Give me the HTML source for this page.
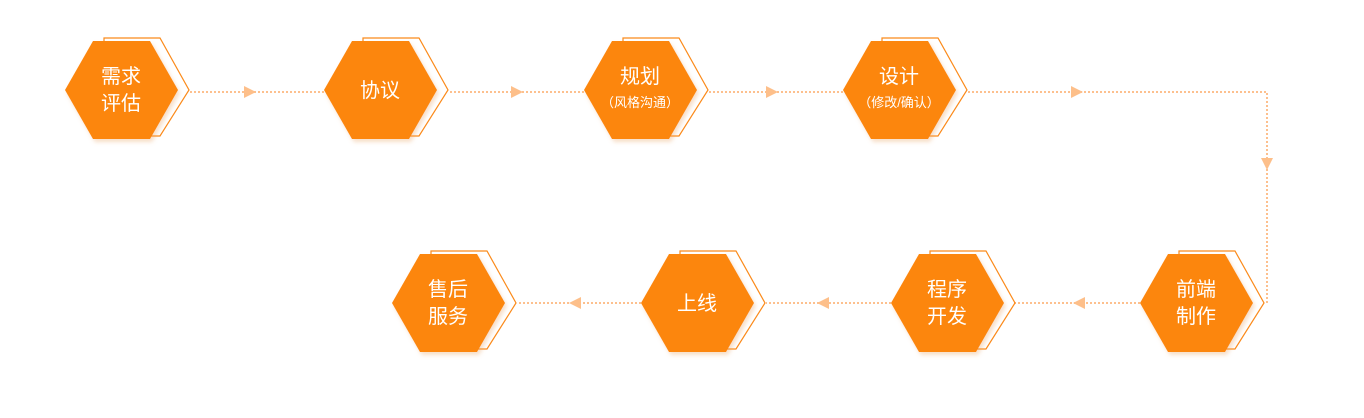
<!DOCTYPE html>
<html><head><meta charset="utf-8"><style>
html,body{margin:0;padding:0;background:#fff;width:1364px;height:418px;overflow:hidden}
svg text{font-family:"Liberation Sans","Noto Sans CJK SC",sans-serif;fill:#fff;text-anchor:middle}
</style></head><body>
<svg width="1364" height="418" viewBox="0 0 1364 418" xmlns="http://www.w3.org/2000/svg">
<defs>
<filter id="sh" x="-20%" y="-20%" width="140%" height="140%"><feDropShadow dx="2" dy="3" stdDeviation="2" flood-color="#e8a060" flood-opacity="0.35"/></filter>
<g id="hex">
<polygon points="-17,-52 39,-52 68,0 39,46 -17,46" fill="none" stroke="#fb8a1a" stroke-width="1.2"/>
<polygon points="-56,0 -28,-49 29,-49 57,0 29,49 -28,49" fill="#fc860c" filter="url(#sh)"/>
</g>
</defs>
<g stroke="#fdc08e" stroke-width="2" stroke-dasharray="2,2" fill="none">
<path d="M190 92 H324 M450 92 H584 M709 92 H843 M968 92 H1267 V303"/>
<path d="M1140 303 H1014 M891 303 H766 M641 303 H518"/>
</g>
<g fill="#fdbf8a">
<polygon points="244,86 256,92 244,98"/>
<polygon points="511,86 523,92 511,98"/>
<polygon points="766,86 778,92 766,98"/>
<polygon points="1071,86 1083,92 1071,98"/>
<polygon points="1261,158 1273,158 1267,170"/>
<polygon points="1085,297 1073,303 1085,309"/>
<polygon points="829,297 817,303 829,309"/>
<polygon points="581,297 569,303 581,309"/>
</g>
<use href="#hex" x="121" y="90"/>
<use href="#hex" x="380" y="90"/>
<use href="#hex" x="640" y="90"/>
<use href="#hex" x="899" y="90"/>
<use href="#hex" x="448" y="303"/>
<use href="#hex" x="697" y="303"/>
<use href="#hex" x="947" y="303"/>
<use href="#hex" x="1196" y="303"/>
<g font-size="20">
<text x="121" y="83">需求</text><text x="121" y="110">评估</text>
<text x="380" y="97">协议</text>
<text x="640" y="83">规划</text>
<text x="899" y="83">设计</text>
<text x="448" y="296">售后</text><text x="448" y="323">服务</text>
<text x="697" y="310">上线</text>
<text x="947" y="296">程序</text><text x="947" y="323">开发</text>
<text x="1196" y="296">前端</text><text x="1196" y="323">制作</text>
</g>
<g font-size="13">
<text x="640" y="107">（风格沟通）</text>
<text x="899" y="107">（修改/确认）</text>
</g>
</svg>
</body></html>
